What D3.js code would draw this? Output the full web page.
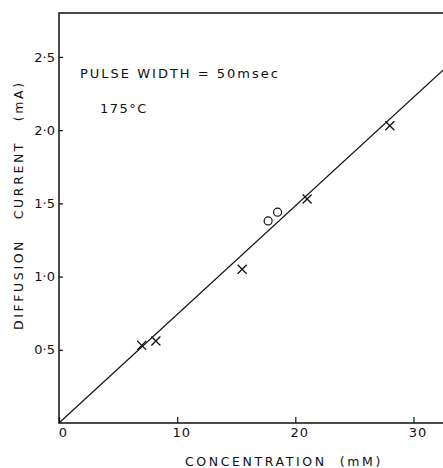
<!DOCTYPE html>
<html>
<head>
<meta charset="utf-8">
<script src="https://cdn.jsdelivr.net/npm/d3@7"></script>
<style>
  body { margin: 0; background: #fff; }
  text { font-family: "DejaVu Sans", sans-serif; fill: #111; }
</style>
</head>
<body>
<svg id="chart"></svg>
<script>
// data
var crossX = [7.0, 8.2, 15.5, 21.0, 28.0];
var crossY = [0.53, 0.56, 1.05, 1.53, 2.03];
var circleX = [17.7, 18.5];
var circleY = [1.38, 1.44];
var fitX = [0, 32.5];
var fitY = [0, 2.41];
var xTicks = [0, 10, 20, 30];
var yTicks = [0.5, 1.0, 1.5, 2.0, 2.5];

var width = 443, height = 468;
var margin = { top: 13, right: 0, bottom: 45, left: 59 };
var plotW = width - margin.left - margin.right;
var plotH = height - margin.top - margin.bottom;

var svg = d3.select("#chart")
    .attr("width", width)
    .attr("height", height);

var g = svg.append("g")
    .attr("transform", "translate(" + margin.left + "," + margin.top + ")");

var xScale = d3.scaleLinear().domain([0, 32.5]).range([0, plotW]);
var yScale = d3.scaleLinear().domain([0, 2.8]).range([plotH, 0]);

// frame: left, top, bottom
g.append("path")
    .attr("d", "M" + plotW + ",0H0V" + plotH + "H" + plotW)
    .attr("fill", "none")
    .attr("stroke", "#111")
    .attr("stroke-width", 1.5);

// axes with inward ticks
var x_axis = d3.axisBottom(xScale)
    .tickValues(xTicks)
    .tickSize(-6)
    .tickPadding(5)
    .tickFormat(d3.format("d"));

g.append("g")
    .attr("class", "x_axis")
    .attr("transform", "translate(0," + plotH + ")")
    .call(x_axis);

var y_axis = d3.axisLeft(yScale)
    .tickValues(yTicks)
    .tickSize(-4)
    .tickPadding(4)
    .tickFormat(function(d) { return d.toFixed(1).replace(".", "\u00b7"); });

g.append("g")
    .attr("class", "y_axis")
    .call(y_axis);

g.selectAll(".domain").remove();
g.selectAll(".tick line").attr("stroke", "#111").attr("stroke-width", 1.2);
g.selectAll(".tick text")
    .attr("font-size", "13px")
    .attr("font-family", "DejaVu Sans, sans-serif")
    .attr("fill", "#111");
g.selectAll(".x_axis .tick text")
    .attr("dx", 4)
    .attr("letter-spacing", "1px");

// fitted line
var line = d3.line()
    .x(function(d) { return xScale(d[0]); })
    .y(function(d) { return yScale(d[1]); });

g.append("path")
    .datum(d3.zip(fitX, fitY))
    .attr("d", line)
    .attr("fill", "none")
    .attr("stroke", "#111")
    .attr("stroke-width", 1.2);

// crosses
var s = 4.5;
g.selectAll(".cross")
    .data(d3.zip(crossX, crossY))
    .enter()
    .append("path")
    .attr("class", "cross")
    .attr("d", function(d) {
        var cx = xScale(d[0]), cy = yScale(d[1]);
        return "M" + (cx - s) + "," + (cy - s) + "L" + (cx + s) + "," + (cy + s) +
               "M" + (cx - s) + "," + (cy + s) + "L" + (cx + s) + "," + (cy - s);
    })
    .attr("stroke", "#111")
    .attr("stroke-width", 1.3);

// open circles
g.selectAll(".ring")
    .data(d3.zip(circleX, circleY))
    .enter()
    .append("circle")
    .attr("class", "ring")
    .attr("cx", function(d) { return xScale(d[0]); })
    .attr("cy", function(d) { return yScale(d[1]); })
    .attr("r", 4)
    .attr("fill", "#fff")
    .attr("stroke", "#111")
    .attr("stroke-width", 1.2);

// annotations
svg.append("text")
    .attr("x", 80)
    .attr("y", 78)
    .attr("font-size", "13px")
    .attr("letter-spacing", "2px")
    .attr("xml:space", "preserve")
    .text("PULSE WIDTH = 50msec");

svg.append("text")
    .attr("x", 100)
    .attr("y", 113)
    .attr("font-size", "13px")
    .attr("letter-spacing", "1.5px")
    .text("175°C");

// axis labels
svg.append("text")
    .attr("x", 185)
    .attr("y", 466)
    .attr("font-size", "12.5px")
    .attr("letter-spacing", "2.6px")
    .attr("xml:space", "preserve")
    .text("CONCENTRATION  (mM)");

svg.append("text")
    .attr("transform", "translate(23,330) rotate(-90)")
    .attr("font-size", "12.5px")
    .attr("letter-spacing", "2.6px")
    .attr("xml:space", "preserve")
    .text("DIFFUSION   CURRENT   (mA)");
</script>
</body>
</html>
